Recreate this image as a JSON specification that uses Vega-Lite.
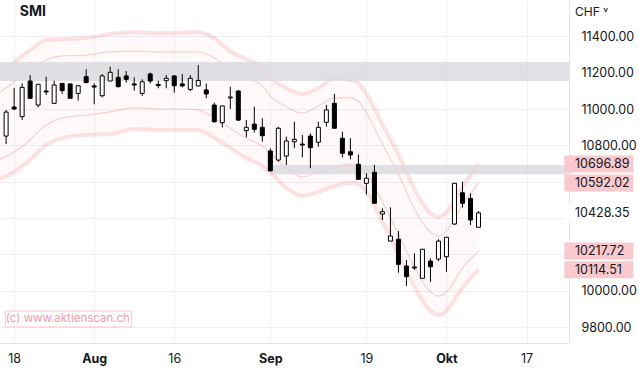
{
"$schema": "https://vega.github.io/schema/vega-lite/v6.json",
"width": 569, "height": 343,
"autosize": "none",
"padding": {"left": 0, "top": 0, "right": 70, "bottom": 25},
"background": "#ffffff",
"config": {"view": {"stroke": null}, "font": "Inter"},
"datasets": {
"candles": [
{"d":"2022-07-15","i":-1,"o":10851,"h":10995,"l":10807,"c":10983},
{"d":"2022-07-18","i":0,"o":11011,"h":11116,"l":10994,"c":11000},
{"d":"2022-07-19","i":1,"o":10958,"h":11141,"l":10939,"c":11119},
{"d":"2022-07-20","i":2,"o":11154,"h":11187,"l":11055,"c":11059},
{"d":"2022-07-21","i":3,"o":11022,"h":11136,"l":11009,"c":11136},
{"d":"2022-07-22","i":4,"o":11099,"h":11178,"l":11077,"c":11094},
{"d":"2022-07-25","i":5,"o":11031,"h":11156,"l":11031,"c":11132},
{"d":"2022-07-26","i":6,"o":11141,"h":11143,"l":11083,"c":11101},
{"d":"2022-07-27","i":7,"o":11138,"h":11138,"l":11059,"c":11059},
{"d":"2022-07-28","i":8,"o":11086,"h":11128,"l":11046,"c":11128},
{"d":"2022-07-29","i":9,"o":11178,"h":11219,"l":11145,"c":11145},
{"d":"2022-08-02","i":10,"o":11127,"h":11141,"l":11026,"c":11121},
{"d":"2022-08-03","i":11,"o":11073,"h":11193,"l":11064,"c":11182},
{"d":"2022-08-04","i":12,"o":11154,"h":11233,"l":11154,"c":11202},
{"d":"2022-08-05","i":13,"o":11174,"h":11219,"l":11119,"c":11123},
{"d":"2022-08-08","i":14,"o":11182,"h":11209,"l":11145,"c":11163},
{"d":"2022-08-09","i":15,"o":11138,"h":11174,"l":11101,"c":11132},
{"d":"2022-08-10","i":16,"o":11086,"h":11163,"l":11072,"c":11150},
{"d":"2022-08-11","i":17,"o":11193,"h":11200,"l":11141,"c":11154},
{"d":"2022-08-12","i":18,"o":11135,"h":11156,"l":11114,"c":11129},
{"d":"2022-08-15","i":19,"o":11156,"h":11187,"l":11114,"c":11169},
{"d":"2022-08-16","i":20,"o":11182,"h":11187,"l":11090,"c":11128},
{"d":"2022-08-17","i":21,"o":11138,"h":11193,"l":11119,"c":11127},
{"d":"2022-08-18","i":22,"o":11108,"h":11187,"l":11099,"c":11169},
{"d":"2022-08-19","i":23,"o":11127,"h":11242,"l":11127,"c":11157},
{"d":"2022-08-22","i":24,"o":11105,"h":11141,"l":11059,"c":11083},
{"d":"2022-08-23","i":25,"o":11022,"h":11035,"l":10925,"c":10930},
{"d":"2022-08-24","i":26,"o":10925,"h":11017,"l":10899,"c":11017},
{"d":"2022-08-25","i":27,"o":11061,"h":11123,"l":11000,"c":11066},
{"d":"2022-08-26","i":28,"o":11099,"h":11105,"l":10934,"c":10939},
{"d":"2022-08-29","i":29,"o":10881,"h":10939,"l":10844,"c":10899},
{"d":"2022-08-30","i":30,"o":10917,"h":11013,"l":10870,"c":10888},
{"d":"2022-08-31","i":31,"o":10899,"h":10949,"l":10820,"c":10853},
{"d":"2022-09-01","i":32,"o":10769,"h":10784,"l":10655,"c":10660},
{"d":"2022-09-02","i":33,"o":10719,"h":10903,"l":10710,"c":10894},
{"d":"2022-09-05","i":34,"o":10741,"h":10848,"l":10692,"c":10824},
{"d":"2022-09-06","i":35,"o":10820,"h":10930,"l":10784,"c":10833},
{"d":"2022-09-07","i":36,"o":10807,"h":10857,"l":10734,"c":10802},
{"d":"2022-09-08","i":37,"o":10851,"h":10866,"l":10674,"c":10787},
{"d":"2022-09-09","i":38,"o":10817,"h":10930,"l":10792,"c":10899},
{"d":"2022-09-12","i":39,"o":10927,"h":11022,"l":10903,"c":10995},
{"d":"2022-09-13","i":40,"o":11031,"h":11083,"l":10894,"c":10894},
{"d":"2022-09-14","i":41,"o":10839,"h":10875,"l":10734,"c":10756},
{"d":"2022-09-15","i":42,"o":10765,"h":10839,"l":10723,"c":10747},
{"d":"2022-09-16","i":43,"o":10696,"h":10750,"l":10613,"c":10613},
{"d":"2022-09-19","i":44,"o":10591,"h":10646,"l":10530,"c":10619},
{"d":"2022-09-20","i":45,"o":10652,"h":10692,"l":10481,"c":10481},
{"d":"2022-09-21","i":46,"o":10422,"h":10453,"l":10389,"c":10435},
{"d":"2022-09-22","i":47,"o":10273,"h":10459,"l":10273,"c":10301},
{"d":"2022-09-23","i":48,"o":10283,"h":10328,"l":10099,"c":10145},
{"d":"2022-09-26","i":49,"o":10136,"h":10169,"l":10026,"c":10077},
{"d":"2022-09-27","i":50,"o":10130,"h":10206,"l":10114,"c":10125},
{"d":"2022-09-28","i":51,"o":10068,"h":10228,"l":10068,"c":10228},
{"d":"2022-09-29","i":52,"o":10163,"h":10178,"l":10049,"c":10132},
{"d":"2022-09-30","i":53,"o":10174,"h":10283,"l":10163,"c":10273},
{"d":"2022-10-03","i":54,"o":10187,"h":10294,"l":10104,"c":10294},
{"d":"2022-10-04","i":55,"o":10367,"h":10591,"l":10361,"c":10591},
{"d":"2022-10-05","i":56,"o":10539,"h":10600,"l":10457,"c":10481},
{"d":"2022-10-06","i":57,"o":10508,"h":10536,"l":10361,"c":10389},
{"d":"2022-10-07","i":58,"o":10349,"h":10439,"l":10349,"c":10428.35}
],
"bands": [
{"i":-2,"uo":11193,"ui":11083,"li":10719,"lo":10609},
{"i":0,"uo":11259,"ui":11149,"li":10763,"lo":10653},
{"i":2,"uo":11325,"ui":11215,"li":10829,"lo":10719},
{"i":4,"uo":11380,"ui":11270,"li":10912,"lo":10802},
{"i":6,"uo":11385,"ui":11292,"li":10951,"lo":10840},
{"i":9,"uo":11391,"ui":11297,"li":10967,"lo":10857},
{"i":12,"uo":11413,"ui":11314,"li":10984,"lo":10862},
{"i":15,"uo":11424,"ui":11319,"li":11006,"lo":10890},
{"i":18,"uo":11418,"ui":11314,"li":11000,"lo":10884},
{"i":21,"uo":11421,"ui":11314,"li":11000,"lo":10884},
{"i":23,"uo":11424,"ui":11314,"li":10995,"lo":10884},
{"i":25,"uo":11391,"ui":11281,"li":10951,"lo":10840},
{"i":27,"uo":11319,"ui":11215,"li":10895,"lo":10785},
{"i":29,"uo":11275,"ui":11171,"li":10840,"lo":10730},
{"i":31,"uo":11231,"ui":11127,"li":10796,"lo":10686},
{"i":32,"uo":11176,"ui":11072,"li":10758,"lo":10648},
{"i":34,"uo":11116,"ui":11011,"li":10675,"lo":10565},
{"i":36,"uo":11083,"ui":10978,"li":10626,"lo":10521},
{"i":38,"uo":11116,"ui":11017,"li":10653,"lo":10543},
{"i":40,"uo":11171,"ui":11061,"li":10681,"lo":10576},
{"i":42,"uo":11160,"ui":11061,"li":10697,"lo":10593},
{"i":43,"uo":11143,"ui":11044,"li":10692,"lo":10587},
{"i":44,"uo":11083,"ui":10978,"li":10648,"lo":10543},
{"i":46,"uo":10917,"ui":10807,"li":10488,"lo":10378},
{"i":48,"uo":10752,"ui":10642,"li":10312,"lo":10202},
{"i":50,"uo":10560,"ui":10450,"li":10130,"lo":10020},
{"i":52,"uo":10428,"ui":10323,"li":9993,"lo":9888},
{"i":53,"uo":10406,"ui":10301,"li":9971,"lo":9866},
{"i":54,"uo":10433,"ui":10328,"li":9993,"lo":9888},
{"i":56,"uo":10576,"ui":10472,"li":10125,"lo":10015},
{"i":58,"uo":10696.89,"ui":10592.02,"li":10217.72,"lo":10114.51}
],
"zones": [
{"start":-2,"end":70,"top":11258.7,"bottom":11154.1},
{"start":31.9,"end":70,"top":10691.7,"bottom":10640.6}
],
"labels": [
{"v":10696.89,"kind":"band"},
{"v":10592.02,"kind":"band"},
{"v":10428.35,"kind":"last"},
{"v":10217.72,"kind":"band"},
{"v":10114.51,"kind":"band"}
]
},
"layer": [
{
"data": {"name": "bands"},
"mark": {"type": "area", "interpolate": "monotone", "clip": true, "color": "#f23645", "opacity": 0.03},
"encoding": {
"x": {"field": "i", "type": "quantitative", "title": null, "scale": {"domain": [-1.14, 68.68], "nice": false, "zero": false},
 "axis": {"values": [0,10,20,32,44,54,64], "title": null,
  "labelExpr": "datum.value==0?'18':datum.value==10?'Aug':datum.value==20?'16':datum.value==32?'Sep':datum.value==44?'19':datum.value==54?'Okt':'17'",
  "labelFontWeight": {"condition": {"test": "datum.value==10||datum.value==32||datum.value==54", "value": "bold"}, "value": "normal"},
  "grid": true, "gridColor": "#eff0f3", "ticks": false, "tickSize": 0, "labelPadding": 9, "labelFontSize": 12.5, "labelColor": "#131722",
  "labelFont": "Inter", "domainColor": "#e0e3eb", "labelFlush": false, "labelOverlap": false}},
"y": {"field": "uo", "type": "quantitative", "title": null, "scale": {"domain": [9712, 11600], "nice": false, "zero": false},
 "axis": {"orient": "right", "values": [9800,10000,10200,10400,10600,10800,11000,11200,11400], "title": null,
  "labelExpr": "(datum.value==10200||datum.value==10400||datum.value==10600) ? '' : format(datum.value, '.2f')",
  "grid": true, "gridColor": "#eff0f3", "ticks": false, "tickSize": 0, "labelPadding": 12, "labelAlign": "left", "labelBaseline": "middle",
  "labelFontSize": 12.5, "labelColor": "#131722", "labelFont": "Inter", "domainColor": "#e0e3eb"}},
"y2": {"field": "lo"}
}
},
{
"data": {"name": "bands"},
"mark": {"type": "line", "interpolate": "monotone", "clip": true, "color": "#f23645", "opacity": 0.14, "strokeWidth": 4},
"encoding": {"x": {"field": "i", "type": "quantitative", "title": null}, "y": {"field": "uo", "type": "quantitative", "title": null}}
},
{
"data": {"name": "bands"},
"mark": {"type": "line", "interpolate": "monotone", "clip": true, "color": "#f23645", "opacity": 0.14, "strokeWidth": 4},
"encoding": {"x": {"field": "i", "type": "quantitative", "title": null}, "y": {"field": "lo", "type": "quantitative", "title": null}}
},
{
"data": {"name": "bands"},
"mark": {"type": "line", "interpolate": "monotone", "clip": true, "color": "#f23645", "opacity": 0.22, "strokeWidth": 1.2},
"encoding": {"x": {"field": "i", "type": "quantitative", "title": null}, "y": {"field": "ui", "type": "quantitative", "title": null}}
},
{
"data": {"name": "bands"},
"mark": {"type": "line", "interpolate": "monotone", "clip": true, "color": "#f23645", "opacity": 0.22, "strokeWidth": 1.2},
"encoding": {"x": {"field": "i", "type": "quantitative", "title": null}, "y": {"field": "li", "type": "quantitative", "title": null}}
},
{
"data": {"name": "zones"},
"mark": {"type": "rect", "clip": true, "color": "#d8d9df", "opacity": 0.8},
"encoding": {"x": {"field": "start", "type": "quantitative", "title": null}, "x2": {"field": "end"},
 "y": {"field": "top", "type": "quantitative", "title": null}, "y2": {"field": "bottom"}}
},
{
"data": {"name": "candles"},
"mark": {"type": "rule", "clip": true, "color": "#000000", "strokeWidth": 1},
"encoding": {"x": {"field": "i", "type": "quantitative", "title": null}, "y": {"field": "l", "type": "quantitative", "title": null}, "y2": {"field": "h"}}
},
{
"data": {"name": "candles"},
"mark": {"type": "bar", "clip": true, "width": 4, "stroke": "#000000", "strokeWidth": 1},
"encoding": {"x": {"field": "i", "type": "quantitative", "title": null}, "y": {"field": "o", "type": "quantitative", "title": null}, "y2": {"field": "c"},
 "fill": {"condition": {"test": "datum.c >= datum.o", "value": "#ffffff"}, "value": "#000000"}}
},
{
"data": {"name": "labels"},
"mark": {"type": "tick", "orient": "horizontal", "size": 69, "thickness": 17, "opacity": 1},
"encoding": {"x": {"datum": 73.03, "type": "quantitative", "title": null}, "y": {"field": "v", "type": "quantitative", "title": null},
 "color": {"condition": {"test": "datum.kind=='band'", "value": "#f9c9cd"}, "value": "#ffffff"}}
},
{
"data": {"name": "labels"},
"mark": {"type": "text", "align": "left", "baseline": "middle", "fontSize": 12.5, "font": "Inter", "color": "#131722"},
"encoding": {"x": {"datum": 70.05, "type": "quantitative", "title": null}, "y": {"field": "v", "type": "quantitative", "title": null},
 "text": {"field": "v", "type": "quantitative", "format": ".2f"}}
},
{
"data": {"values": [{"t": "SMI"}]},
"mark": {"type": "text", "align": "left", "baseline": "middle", "fontSize": 14, "fontWeight": "bold", "font": "Inter", "color": "#131722"},
"encoding": {"x": {"datum": 0.7, "type": "quantitative", "title": null}, "y": {"datum": 11532, "type": "quantitative", "title": null}, "text": {"field": "t"}}
},
{
"data": {"values": [{"t": "CHF ˅"}]},
"mark": {"type": "text", "align": "left", "baseline": "middle", "fontSize": 12, "font": "Inter", "color": "#131722"},
"encoding": {"x": {"datum": 70.05, "type": "quantitative", "title": null}, "y": {"datum": 11536, "type": "quantitative", "title": null}, "text": {"field": "t"}}
},
{
"data": {"values": [{"a": 1}]},
"mark": {"type": "rect", "fill": "#ffffff", "fillOpacity": 0.6, "stroke": "#f9c4c8", "strokeWidth": 1},
"encoding": {"x": {"datum": -1.1, "type": "quantitative", "title": null}, "x2": {"datum": 14.69},
 "y": {"datum": 9888, "type": "quantitative", "title": null}, "y2": {"datum": 9800}}
},
{
"data": {"values": [{"t": "(c) www.aktienscan.ch"}]},
"mark": {"type": "text", "align": "left", "baseline": "middle", "fontSize": 11.5, "font": "Inter", "color": "#f49ca3"},
"encoding": {"x": {"datum": -1.05, "type": "quantitative", "title": null}, "y": {"datum": 9844, "type": "quantitative", "title": null}, "text": {"field": "t"}}
}
]
}
